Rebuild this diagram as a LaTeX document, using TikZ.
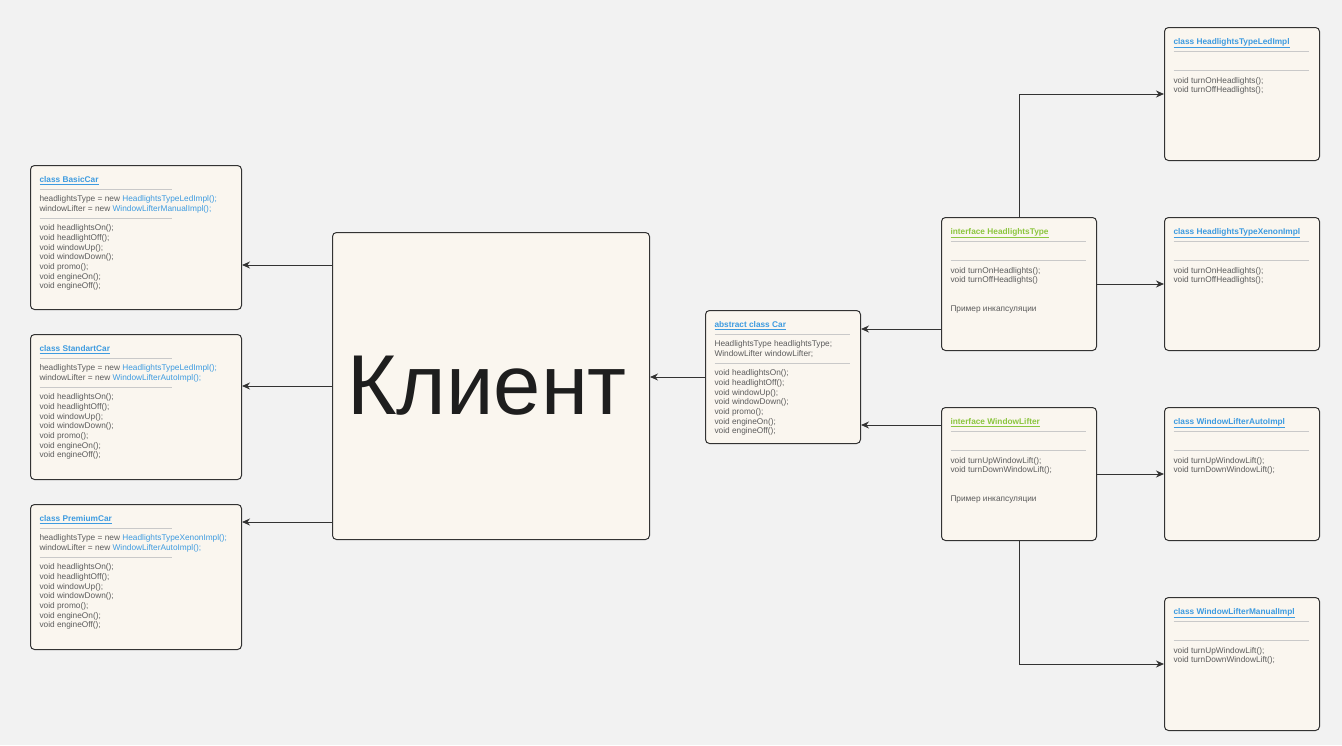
\documentclass[tikz,border=0pt]{standalone}
\usepackage{fontspec}
\setmainfont{Liberation Sans}
\usetikzlibrary{positioning, arrows.meta}
\definecolor{bggray}{HTML}{F2F2F2}
\definecolor{boxfill}{HTML}{FAF6EF}
\definecolor{boxline}{HTML}{333333}
\definecolor{txtgray}{HTML}{5C5C5C}
\definecolor{sepgray}{HTML}{C9C9C9}
\definecolor{linkblue}{HTML}{3D9BE0}
\definecolor{ifgreen}{HTML}{8CC63F}
\definecolor{clientblack}{HTML}{1E1E1E}
\newcommand{\classtext}[3]{\begin{minipage}[t][#2pt][t]{#1pt}\fontsize{8.3}{9.65}\selectfont\rule{0pt}{17pt}#3\end{minipage}}
\newcommand{\sepline}[1]{{\color{sepgray}\raisebox{2.8pt}{\rule{#1pt}{0.6pt}}}}
\newcommand{\ctitle}[2]{\textcolor{#1}{\bfseries\underline{#2}}}
\newcommand{\lnk}[1]{\textcolor{linkblue}{#1}}
\tikzstyle{classbox} = [draw=boxline, fill=boxfill, line width=1pt, rectangle, rounded corners=4pt, anchor=north west, inner xsep=9pt, inner ysep=0pt, text=txtgray]
\tikzstyle{link} = [draw=boxline, line width=1pt, -{Stealth[length=8pt,width=7pt]}]
\begin{document}
\begin{tikzpicture}[x=1pt, y=-1pt]
	\fill[bggray] (0,0) rectangle (1342,745);
	% cars
	\node [classbox] (basic) at (30,165) {\classtext{193}{144}{%
		\ctitle{linkblue}{class BasicCar}\\
		\sepline{133}\\
		headlightsType = new \lnk{HeadlightsTypeLedImpl();}\\
		windowLifter = new \lnk{WindowLifterManualImpl();}\\
		\sepline{133}\\
		void headlightsOn();\\ void headlightOff();\\ void windowUp();\\ void windowDown();\\ void promo();\\ void engineOn();\\ void engineOff();}};
	\node [classbox] (standart) at (30,334) {\classtext{193}{145}{%
		\ctitle{linkblue}{class StandartCar}\\
		\sepline{133}\\
		headlightsType = new \lnk{HeadlightsTypeLedImpl();}\\
		windowLifter = new \lnk{WindowLifterAutoImpl();}\\
		\sepline{133}\\
		void headlightsOn();\\ void headlightOff();\\ void windowUp();\\ void windowDown();\\ void promo();\\ void engineOn();\\ void engineOff();}};
	\node [classbox] (premium) at (30,504) {\classtext{193}{145}{%
		\ctitle{linkblue}{class PremiumCar}\\
		\sepline{133}\\
		headlightsType = new \lnk{HeadlightsTypeXenonImpl();}\\
		windowLifter = new \lnk{WindowLifterAutoImpl();}\\
		\sepline{133}\\
		void headlightsOn();\\ void headlightOff();\\ void windowUp();\\ void windowDown();\\ void promo();\\ void engineOn();\\ void engineOff();}};
	% client
	\node [classbox, minimum width=317pt, minimum height=307pt, text=clientblack, font=\fontsize{85}{90}\selectfont] (client) at (332,232) {Клиент\kern8pt};
	% abstract car
	\node [classbox] (car) at (705,310) {\classtext{137}{133}{%
		\ctitle{linkblue}{abstract class Car}\\
		\sepline{135}\\
		HeadlightsType headlightsType;\\
		WindowLifter windowLifter;\\
		\sepline{135}\\
		void headlightsOn();\\ void headlightOff();\\ void windowUp();\\ void windowDown();\\ void promo();\\ void engineOn();\\ void engineOff();}};
	% interfaces
	\node [classbox] (headlights) at (941,217) {\classtext{137}{133}{%
		\ctitle{ifgreen}{interface HeadlightsType}\\
		\sepline{135}\\ \mbox{}\\ \sepline{135}\\
		void turnOnHeadlights();\\ void turnOffHeadlights()\\ \mbox{}\\ \mbox{}\\
		Пример инкапсуляции}};
	\node [classbox] (lifter) at (941,407) {\classtext{137}{133}{%
		\ctitle{ifgreen}{interface WindowLifter}\\
		\sepline{135}\\ \mbox{}\\ \sepline{135}\\
		void turnUpWindowLift();\\ void turnDownWindowLift();\\ \mbox{}\\ \mbox{}\\
		Пример инкапсуляции}};
	% implementations
	\node [classbox] (led) at (1164,27) {\classtext{137}{133}{%
		\ctitle{linkblue}{class HeadlightsTypeLedImpl}\\
		\sepline{135}\\ \mbox{}\\ \sepline{135}\\
		void turnOnHeadlights();\\ void turnOffHeadlights();}};
	\node [classbox] (xenon) at (1164,217) {\classtext{137}{133}{%
		\ctitle{linkblue}{class HeadlightsTypeXenonImpl}\\
		\sepline{135}\\ \mbox{}\\ \sepline{135}\\
		void turnOnHeadlights();\\ void turnOffHeadlights();}};
	\node [classbox] (auto) at (1164,407) {\classtext{137}{133}{%
		\ctitle{linkblue}{class WindowLifterAutoImpl}\\
		\sepline{135}\\ \mbox{}\\ \sepline{135}\\
		void turnUpWindowLift();\\ void turnDownWindowLift();}};
	\node [classbox] (manual) at (1164,597) {\classtext{137}{133}{%
		\ctitle{linkblue}{class WindowLifterManualImpl}\\
		\sepline{135}\\ \mbox{}\\ \sepline{135}\\
		void turnUpWindowLift();\\ void turnDownWindowLift();}};
	% connectors
	\coordinate (cb) at ([yshift=-33pt]client.north west);
	\coordinate (cp) at ([yshift=18pt]client.south west);
	\coordinate (hc) at ([yshift=22pt]headlights.south west);
	\coordinate (lc) at ([yshift=-18pt]lifter.north west);
	\draw[link] (cb) -- (cb -| basic.east);
	\draw[link] (client.west) -- (client.west -| standart.east);
	\draw[link] (cp) -- (cp -| premium.east);
	\draw[link] (car.west) -- (car.west -| client.east);
	\draw[link] (hc) -- (hc -| car.east);
	\draw[link] (lc) -- (lc -| car.east);
	\draw[link] (headlights.north) |- (led.west);
	\draw[link] (headlights.east) -- (xenon.west);
	\draw[link] (lifter.east) -- (auto.west);
	\draw[link] (lifter.south) |- (manual.west);
\end{tikzpicture}
\end{document}
